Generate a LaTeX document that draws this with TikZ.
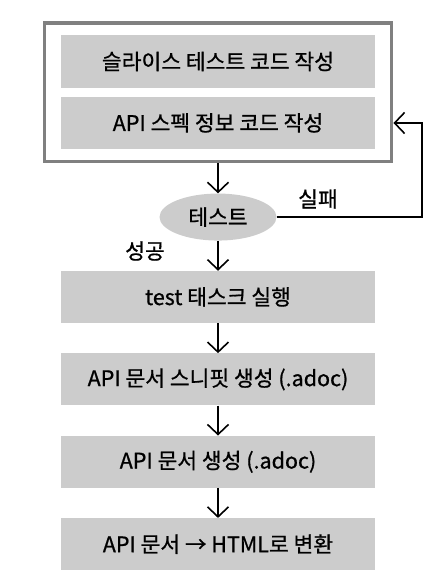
\documentclass[tikz,border=0pt]{standalone}
\usepackage{fontspec}
\setmainfont{Noto Sans CJK KR}[FakeBold=0.8]
\usepackage{tikz}
\usetikzlibrary{positioning,arrows.meta,shapes.geometric,fit}
\definecolor{stepgray}{HTML}{CCCCCC}
\definecolor{framegray}{HTML}{808080}

\begin{document}
\begin{tikzpicture}[
  x=1pt, y=-1pt,
  node distance=30pt,
  box/.style={fill=stepgray, align=center, minimum width=314pt, minimum height=52pt, inner sep=0pt, font=\fontsize{21.5}{26}\selectfont},
  check/.style={ellipse, fill=stepgray, minimum width=117pt, minimum height=47pt, inner sep=0pt, font=\fontsize{21.5}{26}\selectfont},
  tag/.style={font=\fontsize{21.5}{26}\selectfont},
  arrow/.style={-{Straight Barb[length=10pt, width=21pt]}, line width=1.6pt}
]
\useasboundingbox (0,0) rectangle (444,586);
\node[box] (slice) at (218,61.5) {슬라이스 테스트 코드 작성};
\node[box, below=9pt of slice] (spec) {API 스펙 정보 코드 작성};
\node[draw=framegray, line width=3.5pt, inner xsep=16.5pt, inner ysep=12.5pt, fit=(slice)(spec)] (frame) {};
\node[check, below=30pt of frame] (test) {테스트};
\node[box, below=30pt of test] (run) {test 태스크 실행};
\node[box, below=30pt of run] (snippet) {API 문서 스니핏 생성 (.adoc)};
\node[box, below=30pt of snippet] (doc) {API 문서 생성 (.adoc)};
\node[box, below=30pt of doc] (html) {API 문서 → HTML로 변환};
\coordinate (loop) at (422,123);
\node[tag] (fail) at (318,199) {실패};
\node[tag] (pass) at (145,251) {성공};
\draw[arrow] (frame) -- (test);
\draw[arrow] (test.east) -| (loop) -- (frame.east |- loop);
\draw[arrow] (test) -- (run);
\draw[arrow] (run) -- (snippet);
\draw[arrow] (snippet) -- (doc);
\draw[arrow] (doc) -- (html);
\end{tikzpicture}
\end{document}
